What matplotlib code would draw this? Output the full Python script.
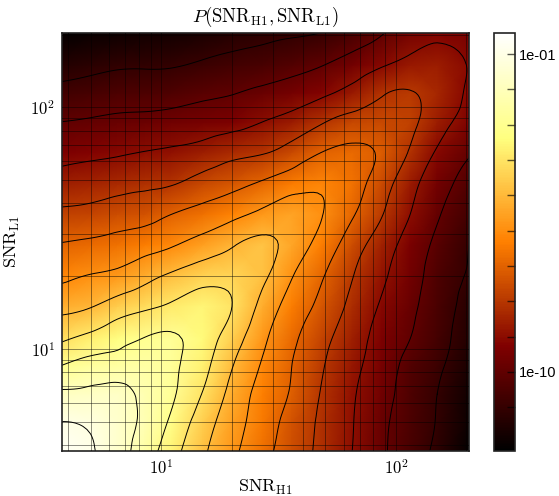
import numpy as np
import matplotlib
matplotlib.use('Agg')
import matplotlib.pyplot as plt
import matplotlib.tri as mtri
from matplotlib.ticker import FixedLocator, FuncFormatter, NullFormatter

plt.rcParams['mathtext.fontset'] = 'cm'
plt.rcParams['font.family'] = ['Liberation Sans', 'DejaVu Sans']

# grid nodes
snr_h1 = [3.7, 5, 6.5, 8.5, 11, 15, 20, 27, 36, 48, 65, 87, 115, 150, 210]
snr_l1 = [3.7, 5, 6.5, 8.5, 11, 15, 20, 27, 36, 48, 65, 87, 115, 150, 210]

# log10 P, one row per snr_l1 value, bottom row first
row_00 = [-0.6, -0.9, -1.6, -2.5, -3.6, -4.85, -5.8, -6.7, -7.5, -8.2, -9.0, -9.85, -10.55, -11.2, -12.2]
row_01 = [-1.0, -1.15, -1.6, -2.2, -3.15, -4.5, -5.55, -6.5, -7.35, -8.15, -8.95, -9.8, -10.45, -11.05, -12.0]
row_02 = [-1.82, -1.76, -1.7, -2.25, -2.85, -4.05, -5.3, -6.35, -7.1, -8.05, -8.9, -9.65, -10.4, -11.0, -11.9]
row_03 = [-3.0, -2.63, -2.55, -2.5, -2.8, -3.7, -4.95, -6.1, -7.0, -7.9, -8.75, -9.5, -10.3, -10.85, -11.65]
row_04 = [-4.15, -3.7, -3.3, -2.95, -2.85, -3.5, -4.5, -5.8, -6.8, -7.7, -8.55, -9.35, -10.0, -10.65, -11.5]
row_05 = [-5.3, -5.05, -4.55, -4.18, -3.85, -3.55, -4.0, -5.3, -6.4, -7.25, -8.25, -9.1, -9.8, -10.5, -11.4]
row_06 = [-6.2, -5.95, -5.75, -5.3, -4.85, -4.4, -4.3, -4.8, -5.95, -6.9, -7.95, -8.85, -9.6, -10.4, -11.1]
row_07 = [-6.95, -6.8, -6.65, -6.4, -6.1, -5.6, -5.1, -4.75, -5.4, -6.35, -7.5, -8.5, -9.4, -10.2, -11.05]
row_08 = [-7.8, -7.7, -7.5, -7.35, -7.0, -6.65, -6.25, -5.75, -5.45, -5.95, -6.9, -7.95, -9.0, -9.9, -10.75]
row_09 = [-8.57, -8.44, -8.3, -8.17, -8.05, -7.6, -7.25, -6.85, -6.4, -6.15, -6.6, -7.55, -8.67, -9.6, -10.4]
row_10 = [-9.33, -9.2, -9.1, -8.97, -8.87, -8.63, -8.28, -8.07, -7.6, -7.0, -6.8, -7.15, -8.1, -9.1, -9.95]
row_11 = [-10.0, -9.9, -9.8, -9.75, -9.65, -9.5, -9.33, -9.0, -8.65, -8.1, -7.65, -7.6, -7.8, -8.6, -9.35]
row_12 = [-10.73, -10.6, -10.48, -10.45, -10.4, -10.2, -10.05, -9.8, -9.55, -9.2, -8.7, -8.1, -7.95, -8.4, -9.2]
row_13 = [-11.42, -11.25, -11.12, -11.1, -11.08, -10.88, -10.7, -10.55, -10.33, -10.05, -9.6, -9.1, -8.7, -8.6, -9.1]
row_14 = [-12.3, -12.1, -12.0, -11.9, -11.9, -11.7, -11.5, -11.3, -11.2, -11.1, -10.7, -10.15, -9.6, -9.3, -9.5]
log_p = np.array([row_00, row_01, row_02, row_03, row_04, row_05, row_06, row_07,
                  row_08, row_09, row_10, row_11, row_12, row_13, row_14])

contour_levels = [-11, -10, -9, -8, -7, -6, -5, -4, -3, -2, -1]
cbar_ticks = [-11, -10, -9, -8, -7, -6, -5, -4, -3, -2, -1]
cbar_labels = {-1: '1e-01', -10: '1e-10'}
vmin, vmax = -12.24, -0.405

### contour mesh in log space, smoothed by matplotlib's refiner ###
gx, gy = np.meshgrid(np.log10(snr_h1), np.log10(snr_l1))
tri = mtri.Triangulation(gx.ravel(), gy.ravel())
refiner = mtri.UniformTriRefiner(tri)
fine_tri, fine_z = refiner.refine_field(log_p.ravel(), subdiv=3)
fine_tri = mtri.Triangulation(10**fine_tri.x, 10**fine_tri.y, fine_tri.triangles)

fig = plt.figure(figsize=(5.59, 4.96), dpi=100)
W, H = 559., 496.
ax = fig.add_axes([62/W, 1-451/H, 407/W, 418/H])
cax = fig.add_axes([494/W, 1-451/H, 21/W, 418/H])

im = ax.pcolormesh(snr_h1, snr_l1, log_p, shading='gouraud', cmap='afmhot', vmin=vmin, vmax=vmax)
ax.tricontour(fine_tri, fine_z, levels=contour_levels, colors='k', linewidths=0.7, linestyles='solid')

ax.set_xscale('log')
ax.set_yscale('log')
ax.set_xlim(3.77, 205)
ax.set_ylim(3.78, 203)
ax.grid(True, which='both', color='k', alpha=0.45, linewidth=0.7)
ax.set_axisbelow(False)
ax.tick_params(which='both', direction='in', length=0, labelsize=12, pad=5)
ax.xaxis.set_minor_formatter(NullFormatter())
ax.yaxis.set_minor_formatter(NullFormatter())
ax.set_xticks([10, 100])
ax.set_xticklabels(['$10^{1}$', '$10^{2}$'])
ax.set_yticks([10, 100])
ax.set_yticklabels(['$10^{1}$', '$10^{2}$'])
ax.set_xlabel(r'$\mathrm{SNR}_{\mathrm{H1}}$', fontsize=13)
ax.xaxis.set_label_coords(0.5, -0.065)
ax.set_ylabel(r'$\mathrm{SNR}_{\mathrm{L1}}$', fontsize=13, labelpad=6)
ax.set_title(r'$P(\mathrm{SNR}_{\mathrm{H1}}, \mathrm{SNR}_{\mathrm{L1}})$', fontsize=13.5, pad=8)
for side in ax.spines:
    ax.spines[side].set_linewidth(1.2)
    ax.spines[side].set_color('#222222')

cb = fig.colorbar(im, cax=cax)
cb.outline.set_linewidth(1.2)
cb.outline.set_edgecolor('#222222')
cax.yaxis.set_major_locator(FixedLocator(cbar_ticks))
cax.yaxis.set_major_formatter(FuncFormatter(lambda v, pos: cbar_labels.get(int(round(v)), '')))
cax.tick_params(axis='y', direction='in', length=6, width=1, color=(0, 0, 0, 0.65), labelsize=10.5, pad=3)

plt.savefig('out.png', dpi=100)
